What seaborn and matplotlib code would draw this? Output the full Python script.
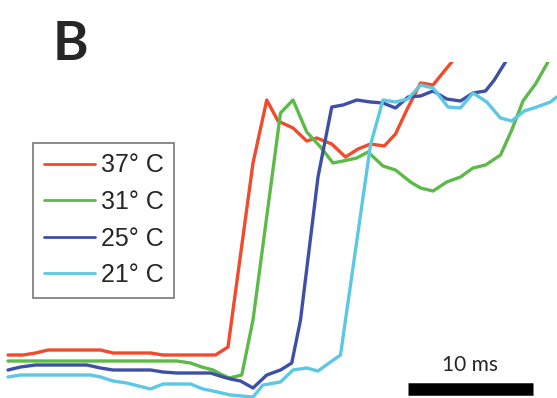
import matplotlib
matplotlib.use("Agg")
import matplotlib.pyplot as plt
import seaborn as sns
import pandas as pd

# Traces of the action-potential upstroke at four temperatures.
# Time in ms, amplitude in arbitrary units.
t_37 = [0, 1.2, 2.2, 3.2, 7.4, 8.4, 11.4, 12.4, 16.6, 17.6, 18.6, 19.6, 20.7, 21.6,
        22.8, 23.9, 24.7, 25.9, 27.0, 28.0, 29.0, 30.1, 31.0, 31.9, 33.0, 34.0, 35.5]
v_37 = [43, 43, 45, 48, 48, 45, 45, 43, 43, 51, 143, 235, 298, 277,
        270, 257, 260, 254, 241, 249, 254, 252, 264, 288, 315, 313, 336]

t_31 = [0, 13.5, 14.6, 15.5, 16.4, 17.0, 17.7, 18.7, 19.6, 21.8, 22.8, 23.9, 25.0, 26.0,
        26.8, 27.9, 28.8, 30.0, 31.0, 32.2, 33.0, 34.0, 35.1, 36.2, 37.2, 38.2, 39.4,
        40.3, 41.2, 42.2, 43.2]
v_31 = [37, 37, 35, 31, 28, 24, 20, 23, 78, 285, 298, 266, 251, 235,
        237, 240, 246, 232, 228, 216, 210, 207, 216, 221, 230, 233, 243,
        268, 297, 314, 336]

t_25 = [0, 1.0, 2.2, 6.3, 7.4, 8.4, 11.4, 12.4, 13.5, 16.2, 17.2, 17.8, 18.6, 19.6,
        20.7, 21.8, 22.7, 23.4, 24.8, 25.9, 26.8, 27.9, 29.0, 30.0, 31.0, 32.0, 33.0,
        34.0, 35.1, 36.2, 37.2, 38.2, 38.9, 39.8]
v_25 = [28, 31, 33, 33, 30, 28, 28, 26, 25, 25, 21, 19, 17, 10,
        23, 28, 35, 78, 221, 291, 293, 298, 296, 295, 290, 301, 302,
        307, 299, 297, 305, 307, 318, 336]

t_21 = [0, 1.0, 6.6, 7.4, 8.4, 9.5, 11.4, 12.4, 14.6, 15.6, 16.4, 17.8, 19.6, 20.4,
        21.8, 22.8, 23.9, 24.8, 25.8, 26.6, 29.0, 30.0, 31.0, 32.0, 33.0, 34.0, 35.2,
        36.2, 37.2, 38.3, 39.4, 40.3, 41.3, 42.3, 43.4, 43.9]
v_21 = [21, 23, 23, 21, 17, 15, 9, 14, 14, 9, 7, 3, 1, 13,
        16, 28, 30, 27, 36, 43, 253, 298, 296, 299, 313, 310, 291,
        290, 305, 296, 280, 277, 287, 291, 296, 301]

labels = ["37° C", "31° C", "25° C", "21° C"]
colors = ["#F24A2C", "#5DBA48", "#3D50A6", "#5CC8E2"]
traces = [(t_37, v_37), (t_31, v_31), (t_25, v_25), (t_21, v_21)]

sns.set_theme(style="white")
plt.rcParams["font.family"] = ["Liberation Sans", "DejaVu Sans"]

fig = plt.figure(figsize=(5.57, 3.98), dpi=100)
ax = fig.add_axes([0, 0, 1, 336 / 398])

for (t, v), lab, col in zip(traces, labels, colors):
    df = pd.DataFrame({"time": t, "amp": v})
    sns.lineplot(data=df, x="time", y="amp", ax=ax, color=col, linewidth=2.4,
                 sort=False, estimator=None, label=lab)

ax.set_xlim(-0.64, 43.92)
ax.set_ylim(0, 336)
ax.axis("off")

leg = ax.legend(loc="upper left", bbox_to_anchor=(33 / 557, 1 - (143 - 62) / 336),
                borderaxespad=0, frameon=True, fancybox=False, fontsize=18,
                handlelength=2.05, handletextpad=0.25, labelspacing=0.5,
                borderpad=0.42)
leg.get_frame().set_edgecolor("#555555")
leg.get_frame().set_linewidth(1.2)
for line in leg.get_lines():
    line.set_linewidth(2.0)

# 10 ms scale bar
bar_y = 398 - 389
ax.plot([32.0, 42.0], [bar_y, bar_y], color="black", linewidth=9,
        solid_capstyle="butt", clip_on=False)
ax.text(37.0, bar_y + 14, "10 ms", ha="center", va="bottom", fontsize=15,
        family=["Lato", "DejaVu Sans"])

fig.text(53 / 557, 1 - 60 / 398, "B", fontsize=39, fontweight="bold",
         family=["Lato", "DejaVu Sans"], ha="left", va="baseline")

fig.savefig("out.png", dpi=100)
